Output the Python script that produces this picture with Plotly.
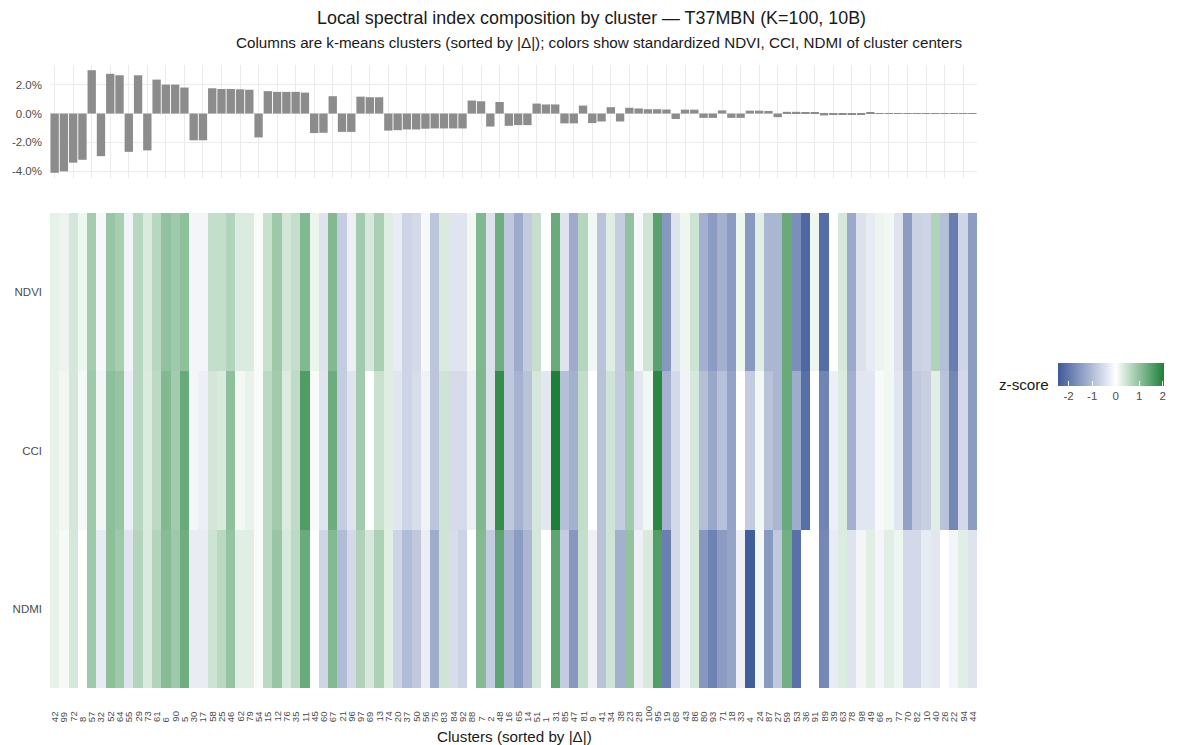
import plotly.graph_objects as go

# ---------------- data ----------------
clusters = ["42", "99", "72", "8", "57", "32", "52", "64", "55", "29",
            "73", "61", "6", "90", "5", "30", "17", "58", "25", "46",
            "62", "79", "54", "15", "12", "76", "35", "11", "45", "60",
            "67", "21", "96", "97", "69", "13", "74", "20", "37", "50",
            "56", "75", "83", "84", "92", "88", "7", "2", "48", "16",
            "65", "14", "51", "1", "31", "85", "47", "81", "9", "41",
            "34", "38", "23", "28", "100", "95", "19", "68", "43", "86",
            "80", "93", "71", "18", "33", "4", "24", "87", "27", "59",
            "53", "36", "91", "89", "39", "63", "78", "98", "49", "66",
            "3", "77", "70", "82", "10", "40", "26", "22", "94", "44"]

# share difference (percent)
delta_pct = [-4.1, -4.0, -3.4, -3.2, 3.0, -2.95, 2.75, 2.65, -2.65, 2.65,
             -2.55, 2.35, 2.0, 2.0, 1.8, -1.85, -1.85, 1.75, 1.7, 1.7,
             1.68, 1.65, -1.65, 1.55, 1.5, 1.5, 1.5, 1.45, -1.35, -1.33,
             1.2, -1.27, -1.27, 1.17, 1.13, 1.13, -1.18, -1.15, -1.1, -1.1,
             -1.05, -1.03, -1.03, -1.03, -1.03, 0.9, 0.85, -0.9, 0.8, -0.85,
             -0.8, -0.8, 0.69, 0.63, 0.63, -0.68, -0.68, 0.55, -0.66, -0.55,
             0.44, -0.55, 0.4, 0.35, 0.3, 0.3, 0.28, -0.38, 0.27, 0.27,
             -0.3, -0.3, 0.22, -0.3, -0.3, 0.2, 0.2, 0.18, -0.25, 0.12,
             0.12, 0.1, 0.08, -0.13, -0.1, -0.08, -0.06, -0.05, 0.04, -0.03,
             -0.03, -0.03, -0.02, 0.02, -0.02, -0.02, -0.01, 0.01, -0.01, 0.005]

ndvi_z = [0.23, 0.18, 0.38, 0.15, 0.82, -0.1, 0.93, 0.79, -0.17, 0.64,
          0.34, 0.64, 1.0, 0.87, 1.02, -0.15, -0.15, 0.54, 0.54, 0.69,
          0.33, 0.33, 0.06, 0.5, 0.88, 0.4, 0.53, 1.15, 0.17, -0.41,
          1.13, -0.76, -0.22, 0.84, 0.37, 0.77, 0.29, -0.28, -0.64, -0.56,
          -0.1, -0.86, 0.34, -0.4, -0.4, 0.11, 1.15, -0.45, 1.31, -0.81,
          -1.24, -0.77, 0.52, 0.0, 1.35, -0.42, -1.24, 0.67, 0.13, -0.9,
          0.29, -0.74, 1.0, -0.1, 0.43, 1.5, -1.53, -0.41, 0.15, 0.45,
          -1.17, -1.48, -1.18, -1.48, 0.15, -1.5, 0.28, -1.09, -1.09, 1.37,
          -1.67, -2.25, 0.15, -2.17, 0.0, 0.37, -1.28, -0.45, -0.3, 0.17,
          0.13, -0.41, -1.47, -0.69, -0.64, 0.72, -0.97, -1.91, -0.62, -1.47]

cci_z = [0.21, 0.13, 0.38, 0.08, 0.87, -0.15, 1.03, 0.94, -0.24, 0.64,
         0.33, 0.61, 1.13, 0.83, 1.37, -0.15, -0.24, 0.4, 0.34, 1.02,
         0.11, 0.2, 0.06, 0.61, 0.84, 0.32, 0.58, 1.6, 0.06, -0.4,
         1.33, -0.76, -0.4, 0.84, 0.0, 0.49, 0.29, -0.37, -0.64, -0.5,
         -0.2, -0.86, 0.43, -0.53, -0.53, -0.22, 1.16, -0.45, 1.84, -0.81,
         -1.14, -0.91, 0.38, -0.36, 2.05, -0.95, -1.18, 0.55, 0.0, -0.91,
         0.43, -0.75, 0.85, -0.37, 0.13, 1.93, -1.14, -0.56, -0.18, 0.37,
         -0.97, -1.3, -0.92, -1.36, 0.0, -0.76, 0.12, -0.91, -1.09, 1.37,
         -1.22, -2.14, 0.0, -1.81, -0.24, 0.32, -1.18, -0.37, -0.37, -0.09,
         0.13, -0.37, -1.39, -0.8, -0.72, 0.27, -0.91, -1.77, -0.56, -1.47]

ndmi_z = [0.21, 0.08, 0.38, 0.0, 0.87, -0.3, 1.03, 0.88, -0.41, 0.69,
          0.34, 0.7, 1.08, 0.88, 1.3, -0.28, -0.28, 0.45, 0.63, 0.96,
          0.28, 0.28, 0.06, 0.61, 0.93, 0.35, 0.61, 1.35, 0.0, -0.62,
          1.12, -1.0, -0.56, 0.73, 0.37, 0.75, 0.28, -0.64, -1.0, -0.81,
          -0.27, -1.23, 0.43, -0.5, -0.65, 0.0, 1.11, -0.76, 1.45, -1.12,
          -1.47, -1.09, 0.38, 0.0, 1.45, -0.76, -1.53, 0.54, -0.22, -0.91,
          0.43, -1.18, 0.98, -0.22, 0.35, 1.57, -1.89, -0.56, -0.18, 0.37,
          -1.53, -1.85, -1.48, -1.35, -0.22, -2.41, 0.11, -1.5, -0.81, 1.28,
          -2.12, 0.0, 0.0, -1.77, -0.3, 0.32, -0.41, -0.15, 0.27, -0.15,
          0.27, 0.15, -0.56, -0.56, -0.3, -0.37, 0.0, -0.15, 0.27, -0.41]

index_names = ["NDVI", "CCI", "NDMI"]
delta_tickvals = [-4, -2, 0, 2]
delta_ticktext = ["-4.0%", "-2.0%", "0.0%", "2.0%"]
z_tickvals = [-2, -1, 0, 1, 2]
z_ticktext = ["-2", "-1", "0", "1", "2"]
z_min, z_max = -2.45, 2.05

# ---------------- layout helpers ----------------
W, H = 1180, 745
FONT = "Liberation Sans, Arial, sans-serif"
TXT = "#4d4d4d"
DARK = "#1a1a1a"
GRID = "#ebebeb"


def fx(p):
    return p / W


def fy(p):
    return (H - p) / H


fig = go.Figure()

fig.add_trace(go.Bar(
    x=clusters, y=delta_pct, xaxis="x", yaxis="y",
    marker=dict(color="#8c8c8c", line=dict(width=0)),
    width=0.9, showlegend=False, hoverinfo="x+y",
))

fig.add_trace(go.Heatmap(
    x=clusters, y=index_names, z=[ndvi_z, cci_z, ndmi_z],
    xaxis="x2", yaxis="y2",
    zmin=z_min, zmax=z_max,
    colorscale=[[0.0, "#3f5a9a"], [(-z_min) / (z_max - z_min), "#ffffff"], [1.0, "#1d8038"]],
    colorbar=dict(
        orientation="h",
        x=fx(1111), xanchor="center",
        y=fy(363), yanchor="top",
        len=106, lenmode="pixels",
        thickness=23,
        xpad=0, ypad=0,
        outlinewidth=0,
        tickvals=z_tickvals, ticktext=z_ticktext,
        ticks="inside", tickcolor="white", ticklen=5, tickwidth=1,
        tickfont=dict(family=FONT, size=11.5, color=TXT),
    ),
))

annotations = [
    dict(text="Local spectral index composition by cluster \u2014 T37MBN (K=100, 10B)",
         x=fx(591), y=fy(18), xref="paper", yref="paper", showarrow=False,
         xanchor="center", yanchor="middle", font=dict(family=FONT, size=17.9, color=DARK)),
    dict(text="Columns are k-means clusters (sorted by |\u0394|); colors show standardized NDVI, CCI, NDMI of cluster centers",
         x=fx(599), y=fy(43), xref="paper", yref="paper", showarrow=False,
         xanchor="center", yanchor="middle", font=dict(family=FONT, size=15.2, color=DARK)),
    dict(text="Clusters (sorted by |\u0394|)",
         x=fx(514), y=fy(736), xref="paper", yref="paper", showarrow=False,
         xanchor="center", yanchor="middle", font=dict(family=FONT, size=15.2, color=DARK)),
    dict(text="z-score",
         x=fx(1051), y=fy(384), xref="paper", yref="paper", showarrow=False,
         xanchor="right", yanchor="middle", font=dict(family=FONT, size=15.2, color=DARK)),
]
for i, c in enumerate(clusters):
    annotations.append(dict(
        text=c, x=i, xref="x2", y=fy(724), yref="paper", textangle=-90,
        showarrow=False, xanchor="center", yanchor="bottom",
        font=dict(family=FONT, size=9.5, color=TXT),
    ))

xdom = [fx(50), fx(977)]
fig.update_layout(
    width=W, height=H,
    margin=dict(l=0, r=0, t=0, b=0),
    paper_bgcolor="white", plot_bgcolor="white",
    font=dict(family=FONT, color=TXT),
    showlegend=False,
    xaxis=dict(domain=xdom, anchor="y", type="category",
               categoryorder="array", categoryarray=clusters,
               range=[-0.5, len(clusters) - 0.5],
               showticklabels=False, ticks="", showgrid=True, gridcolor=GRID, gridwidth=1.3,
               zeroline=False, showline=False, automargin=False),
    yaxis=dict(domain=[fy(178), fy(65)], anchor="x", range=[-4.46, 3.36],
               tickvals=delta_tickvals, ticktext=delta_ticktext, ticks="",
               ticklabelstandoff=7,
               tickfont=dict(family=FONT, size=11.5, color=TXT),
               showgrid=True, gridcolor=GRID, gridwidth=1.3, zeroline=False, showline=False,
               automargin=False),
    xaxis2=dict(domain=xdom, anchor="y2", type="category",
                categoryorder="array", categoryarray=clusters,
                range=[-0.5, len(clusters) - 0.5],
                showticklabels=False, ticks="", showgrid=False, zeroline=False,
                showline=False, automargin=False),
    yaxis2=dict(domain=[fy(688), fy(213)], anchor="x2", type="category",
                categoryorder="array", categoryarray=index_names[::-1],
                ticks="", ticklabelstandoff=7,
                tickfont=dict(family=FONT, size=11.5, color=TXT),
                showgrid=False, zeroline=False, showline=False, automargin=False),
    annotations=annotations,
)

fig.write_html("out.html")
